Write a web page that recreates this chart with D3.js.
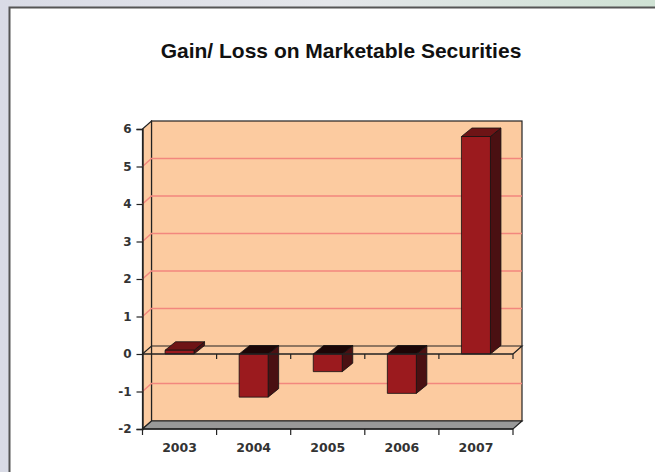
<!DOCTYPE html>
<html><head><meta charset="utf-8">
<script src="https://cdn.jsdelivr.net/npm/d3@7"></script>
<style>html,body{margin:0;padding:0;overflow:hidden;background:#fff}</style>
</head><body>
<svg id="c" width="655" height="472"></svg>
<script>
const title = "Gain/ Loss on Marketable Securities";
const years = ["2003","2004","2005","2006","2007"];
const values = [0.1, -1.15, -0.47, -1.05, 5.8];
const yTicks = [-2,-1,0,1,2,3,4,5,6];

const svg = d3.select("#c");
const W = 655, H = 472;

// backdrop
const defs = svg.append("defs");
const bg = defs.append("linearGradient").attr("id","bg").attr("x1","0").attr("y1","0").attr("x2","1").attr("y2","0");
bg.append("stop").attr("offset","0").attr("stop-color","#d9dbe6");
bg.append("stop").attr("offset","0.5").attr("stop-color","#e4e6ea");
bg.append("stop").attr("offset","1").attr("stop-color","#cfe2d4");
svg.append("rect").attr("width",W).attr("height",H).attr("fill","url(#bg)");
svg.append("rect").attr("x",9.5).attr("y",7.5).attr("width",W).attr("height",H).attr("fill","#fff");
svg.append("path").attr("d",`M9.5,${H} V7.5 H${W}`).attr("fill","none").attr("stroke","#555").attr("stroke-width",2);

svg.append("text").attr("x",341).attr("y",58).attr("text-anchor","middle")
  .attr("font-family","'Liberation Sans',Arial,sans-serif").attr("font-weight","bold")
  .attr("font-size",21).attr("fill","#111").text(title);

const x0 = 142.5, x1 = 513;
const y = d3.scaleLinear().domain([-2,6]).range([429,129]);
const x = d3.scaleBand().domain(years).range([x0,x1]).paddingInner(0).paddingOuter(0);
const wdx = 9, wdy = -8;   // wall depth
const bdx = 10.5, bdy = -8.5; // bar depth
const barW = 29;

const g = svg.append("g");
const peach = "#fccba0", grid = "#f2877e";

// back wall
g.append("rect").attr("x",x0+wdx).attr("y",y(6)+wdy).attr("width",x1-x0).attr("height",y(-2)-y(6))
  .attr("fill",peach).attr("stroke","#222").attr("stroke-width",1.2);
// side wall
g.append("path").attr("d",`M${x0},${y(6)} L${x0+wdx},${y(6)+wdy} L${x0+wdx},${y(-2)+wdy} L${x0},${y(-2)} Z`)
  .attr("fill",peach).attr("stroke","#222").attr("stroke-width",1.2);
// gridlines
yTicks.filter(t=>t>-2 && t<6 && t!==0).forEach(t=>{
  g.append("path").attr("d",`M${x0},${y(t)} L${x0+wdx},${y(t)+wdy} H${x1+wdx}`)
    .attr("fill","none").attr("stroke",grid).attr("stroke-width",1.5);
});
// floor
g.append("path").attr("d",`M${x0},${y(-2)} L${x0+wdx},${y(-2)+wdy} H${x1+wdx} L${x1},${y(-2)} Z`)
  .attr("fill","#999999").attr("stroke","#222").attr("stroke-width",1.2);
// zero plane back line
g.append("path").attr("d",`M${x0},${y(0)} L${x0+wdx},${y(0)+wdy} H${x1+wdx} L${x1},${y(0)}`)
  .attr("fill","none").attr("stroke","#222").attr("stroke-width",1.2);

// bars
const front = "#9b1a1e", side = "#4a1012", topPos = "#6e1416", topNeg = "#1c0606";
years.forEach((yr,i)=>{
  const v = values[i];
  const cx = x(yr) + x.bandwidth()/2;
  const bx = cx - barW/2;
  const yt = y(Math.max(v,0)), yb = y(Math.min(v,0));
  const bg2 = g.append("g").attr("stroke","#111").attr("stroke-width",0.8).attr("stroke-linejoin","round");
  bg2.append("path").attr("d",`M${bx+barW},${yt} L${bx+barW+bdx},${yt+bdy} L${bx+barW+bdx},${yb+bdy} L${bx+barW},${yb} Z`).attr("fill",side);
  bg2.append("path").attr("d",`M${bx},${yt} L${bx+bdx},${yt+bdy} H${bx+barW+bdx} L${bx+barW},${yt} Z`).attr("fill", v>=0?topPos:topNeg);
  bg2.append("rect").attr("x",bx).attr("y",yt).attr("width",barW).attr("height",Math.max(yb-yt,0.5)).attr("fill",front);
});

// front zero axis line and ticks
const bounds = years.map(d=>x(d)).concat([x1]);
g.append("line").attr("x1",x0).attr("x2",x1).attr("y1",y(0)).attr("y2",y(0)).attr("stroke","#222").attr("stroke-width",1.4);
bounds.slice(1).forEach(b=>{
  g.append("line").attr("x1",b).attr("x2",b).attr("y1",y(0)).attr("y2",y(0)+5).attr("stroke","#222").attr("stroke-width",1.2);
});

// y axis
const yAxis = d3.axisLeft(y).tickValues(yTicks).tickSize(6).tickPadding(5).tickFormat(d => String(d));
const ya = svg.append("g").attr("transform",`translate(${x0},0)`).call(yAxis);
ya.select(".domain").attr("stroke","#222").attr("stroke-width",1.4);
ya.selectAll(".tick line").attr("stroke","#222").attr("stroke-width",1.2);
ya.selectAll(".tick text").attr("font-family","'DejaVu Sans',Verdana,sans-serif").attr("font-weight","bold")
  .attr("font-size",12).attr("fill","#333");

// x axis at bottom
const xa = svg.append("g").attr("transform",`translate(0,${y(-2)})`);
xa.append("line").attr("x1",x0).attr("x2",x1).attr("stroke","#222").attr("stroke-width",1.4);
bounds.forEach(b=>{
  xa.append("line").attr("x1",b).attr("x2",b).attr("y1",0).attr("y2",6).attr("stroke","#222").attr("stroke-width",1.2);
});
const xAxis = d3.axisBottom(x).tickSize(0).tickPadding(14);
const xl = svg.append("g").attr("transform",`translate(0,${y(-2)})`).call(xAxis);
xl.select(".domain").remove();
xl.selectAll(".tick text").attr("font-family","'DejaVu Sans',Verdana,sans-serif").attr("font-weight","bold")
  .attr("font-size",12.5).attr("fill","#333");
</script>
</body></html>
